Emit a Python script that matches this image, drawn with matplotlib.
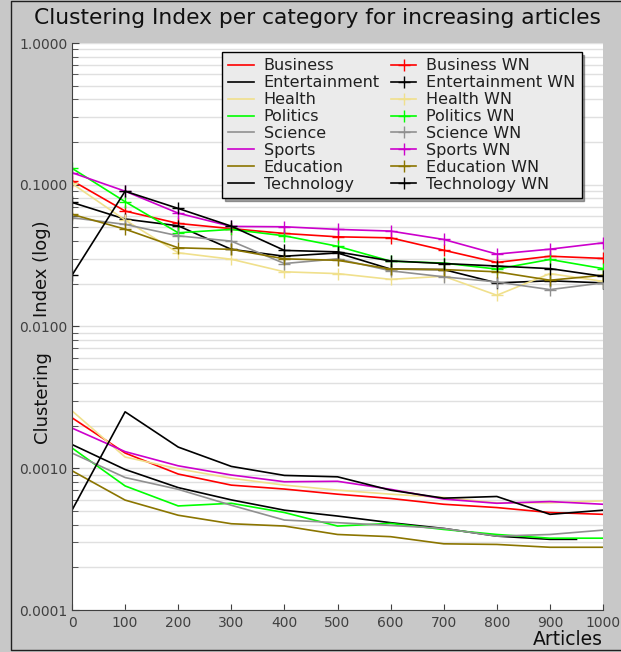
import numpy as np
import matplotlib
matplotlib.use('Agg')
import matplotlib.pyplot as plt
from matplotlib.lines import Line2D
from matplotlib.ticker import LogLocator, FormatStrFormatter, NullFormatter

articles = [0, 100, 200, 300, 400, 500, 600, 700, 800, 900, 1000]
articles_ent = [0, 100, 200, 300, 400, 500, 600, 700, 800, 900, 950]

categories = ['Business', 'Entertainment', 'Health', 'Politics',
              'Science', 'Sports', 'Education', 'Technology']
colors = ['#ff0000', '#000000', '#f0e08c', '#00ff00',
          '#909090', '#cc00cc', '#8b7500', '#000000']

# plain clustering index
business = [0.00227, 0.00128, 0.00091, 0.00076, 0.000713, 0.000656, 0.000612, 0.000557, 0.000528, 0.000487, 0.000473]
entertainment = [0.00147, 0.00098, 0.00073, 0.000598, 0.000506, 0.00046, 0.000413, 0.000376, 0.000332, 0.000315, 0.000315]
health = [0.00254, 0.0012, 0.00099, 0.00085, 0.00076, 0.000701, 0.000656, 0.000622, 0.00057, 0.00057, 0.000589]
politics = [0.00139, 0.00075, 0.000542, 0.000566, 0.000487, 0.000391, 0.000408, 0.00037, 0.000341, 0.000321, 0.000321]
science = [0.00128, 0.00086, 0.00071, 0.000548, 0.000431, 0.000413, 0.000395, 0.000376, 0.000332, 0.000341, 0.000366]
sports = [0.00192, 0.00131, 0.00104, 0.000896, 0.000803, 0.000809, 0.00071, 0.000606, 0.000566, 0.000582, 0.000557]
education = [0.00096, 0.000596, 0.000466, 0.000406, 0.000391, 0.000341, 0.000329, 0.000293, 0.00029, 0.000277, 0.000277]
technology = [0.000506, 0.0025, 0.00141, 0.00103, 0.00089, 0.00087, 0.0007, 0.000615, 0.000632, 0.000473, 0.000506]

# WN clustering index
business_wn = [0.107, 0.0652, 0.0533, 0.049, 0.0453, 0.0429, 0.0422, 0.0345, 0.0283, 0.0313, 0.0302]
entertainment_wn = [0.075, 0.0572, 0.0513, 0.035, 0.0313, 0.033, 0.0254, 0.0252, 0.0203, 0.021, 0.0203]
health_wn = [0.102, 0.0563, 0.0331, 0.0298, 0.0243, 0.0236, 0.0215, 0.0226, 0.0166, 0.0236, 0.0208]
politics_wn = [0.1306, 0.0759, 0.0458, 0.0484, 0.0436, 0.0368, 0.0289, 0.028, 0.0254, 0.0297, 0.0256]
science_wn = [0.0585, 0.0525, 0.0436, 0.040, 0.0278, 0.030, 0.0247, 0.0224, 0.0206, 0.0182, 0.0203]
sports_wn = [0.1216, 0.090, 0.063, 0.0508, 0.0505, 0.0484, 0.0471, 0.0411, 0.0324, 0.0351, 0.0389]
education_wn = [0.0618, 0.0486, 0.0359, 0.035, 0.030, 0.0293, 0.0254, 0.0252, 0.0243, 0.0212, 0.023]
technology_wn = [0.023, 0.090, 0.068, 0.051, 0.0344, 0.0336, 0.029, 0.0278, 0.0267, 0.0256, 0.0226]

plain = [business, entertainment, health, politics, science, sports, education, technology]
wn = [business_wn, entertainment_wn, health_wn, politics_wn, science_wn, sports_wn, education_wn, technology_wn]

# small epsilon so the saved image is exactly 621x652
fig = plt.figure(figsize=(6.2105, 6.5205), dpi=100, facecolor='#c8c8c8')
ax = fig.add_axes([72/621, 1 - 610/652, 531/621, 567/652])
ax.set_facecolor('white')

handles_plain = []
handles_wn = []
for i, cat in enumerate(categories):
    xs = articles_ent if cat == 'Entertainment' else articles
    h, = ax.plot(xs, plain[i], color=colors[i], lw=1.2, label=cat)
    handles_plain.append(h)
for i, cat in enumerate(categories):
    h, = ax.plot(articles, wn[i], color=colors[i], lw=1.2, marker='+',
                 markersize=9, markeredgewidth=1, label=cat + ' WN')
    handles_wn.append(h)

ax.set_yscale('log')
ax.set_ylim(0.0001, 1.0)
ax.set_xlim(0, 1000)
ax.set_xticks(articles)
ax.yaxis.set_major_locator(LogLocator(base=10, numticks=10))
ax.yaxis.set_minor_locator(LogLocator(base=10, subs=np.arange(2, 10), numticks=10))
ax.yaxis.set_major_formatter(FormatStrFormatter('%.4f'))
ax.yaxis.set_minor_formatter(NullFormatter())
ax.grid(True, axis='y', which='both', color='#e0e0e0', lw=1)
ax.set_axisbelow(True)

for s in ['top', 'right']:
    ax.spines[s].set_visible(False)
for s in ['left', 'bottom']:
    ax.spines[s].set_color('#404040')
ax.tick_params(axis='both', which='major', direction='in', length=5,
               color='#404040', labelsize=10, labelcolor='#404040', pad=3)
ax.tick_params(axis='y', which='minor', direction='in', length=4, color='#404040')
ax.tick_params(axis='x', which='major', length=4, pad=4)

leg = ax.legend(handles_plain + handles_wn,
                [h.get_label() for h in handles_plain + handles_wn],
                ncol=2, loc='upper left', bbox_to_anchor=((222 - 72) / 531, (610 - 52) / 567),
                borderaxespad=0, fontsize=11.5, labelspacing=0.12, handlelength=1.6,
                handletextpad=0.6, columnspacing=0.7, borderpad=0.4,
                fancybox=False, shadow=True, framealpha=1,
                facecolor='#ebebeb', edgecolor='black')
leg.get_frame().set_linewidth(1)
for t in leg.get_texts():
    t.set_color('#202020')

fig.text(317 / 621, 1 - 18 / 652, 'Clustering Index per category for increasing articles',
         ha='center', va='center', fontsize=15.7, color='#101010')
fig.text(603 / 621, 1 - 639 / 652, 'Articles', ha='right', va='center',
         fontsize=13.5, color='#101010')
fig.text(42 / 621, 1 - 269 / 652, 'Index (log)', rotation=90, ha='center', va='center',
         fontsize=13, color='#101010')
fig.text(42 / 621, 1 - 397 / 652, 'Clustering', rotation=90, ha='center', va='center',
         fontsize=13, color='#101010')

# outer frame: left, top and bottom edges only
x0, y0, y1 = 10.5 / 621, 1 - 650.5 / 652, 1 - 1.5 / 652
fig.lines.append(Line2D([1.01, x0, x0, 1.01], [y1, y1, y0, y0], transform=fig.transFigure,
                        color='#202020', lw=1))

fig.savefig('out.png', dpi=100, facecolor=fig.get_facecolor())
